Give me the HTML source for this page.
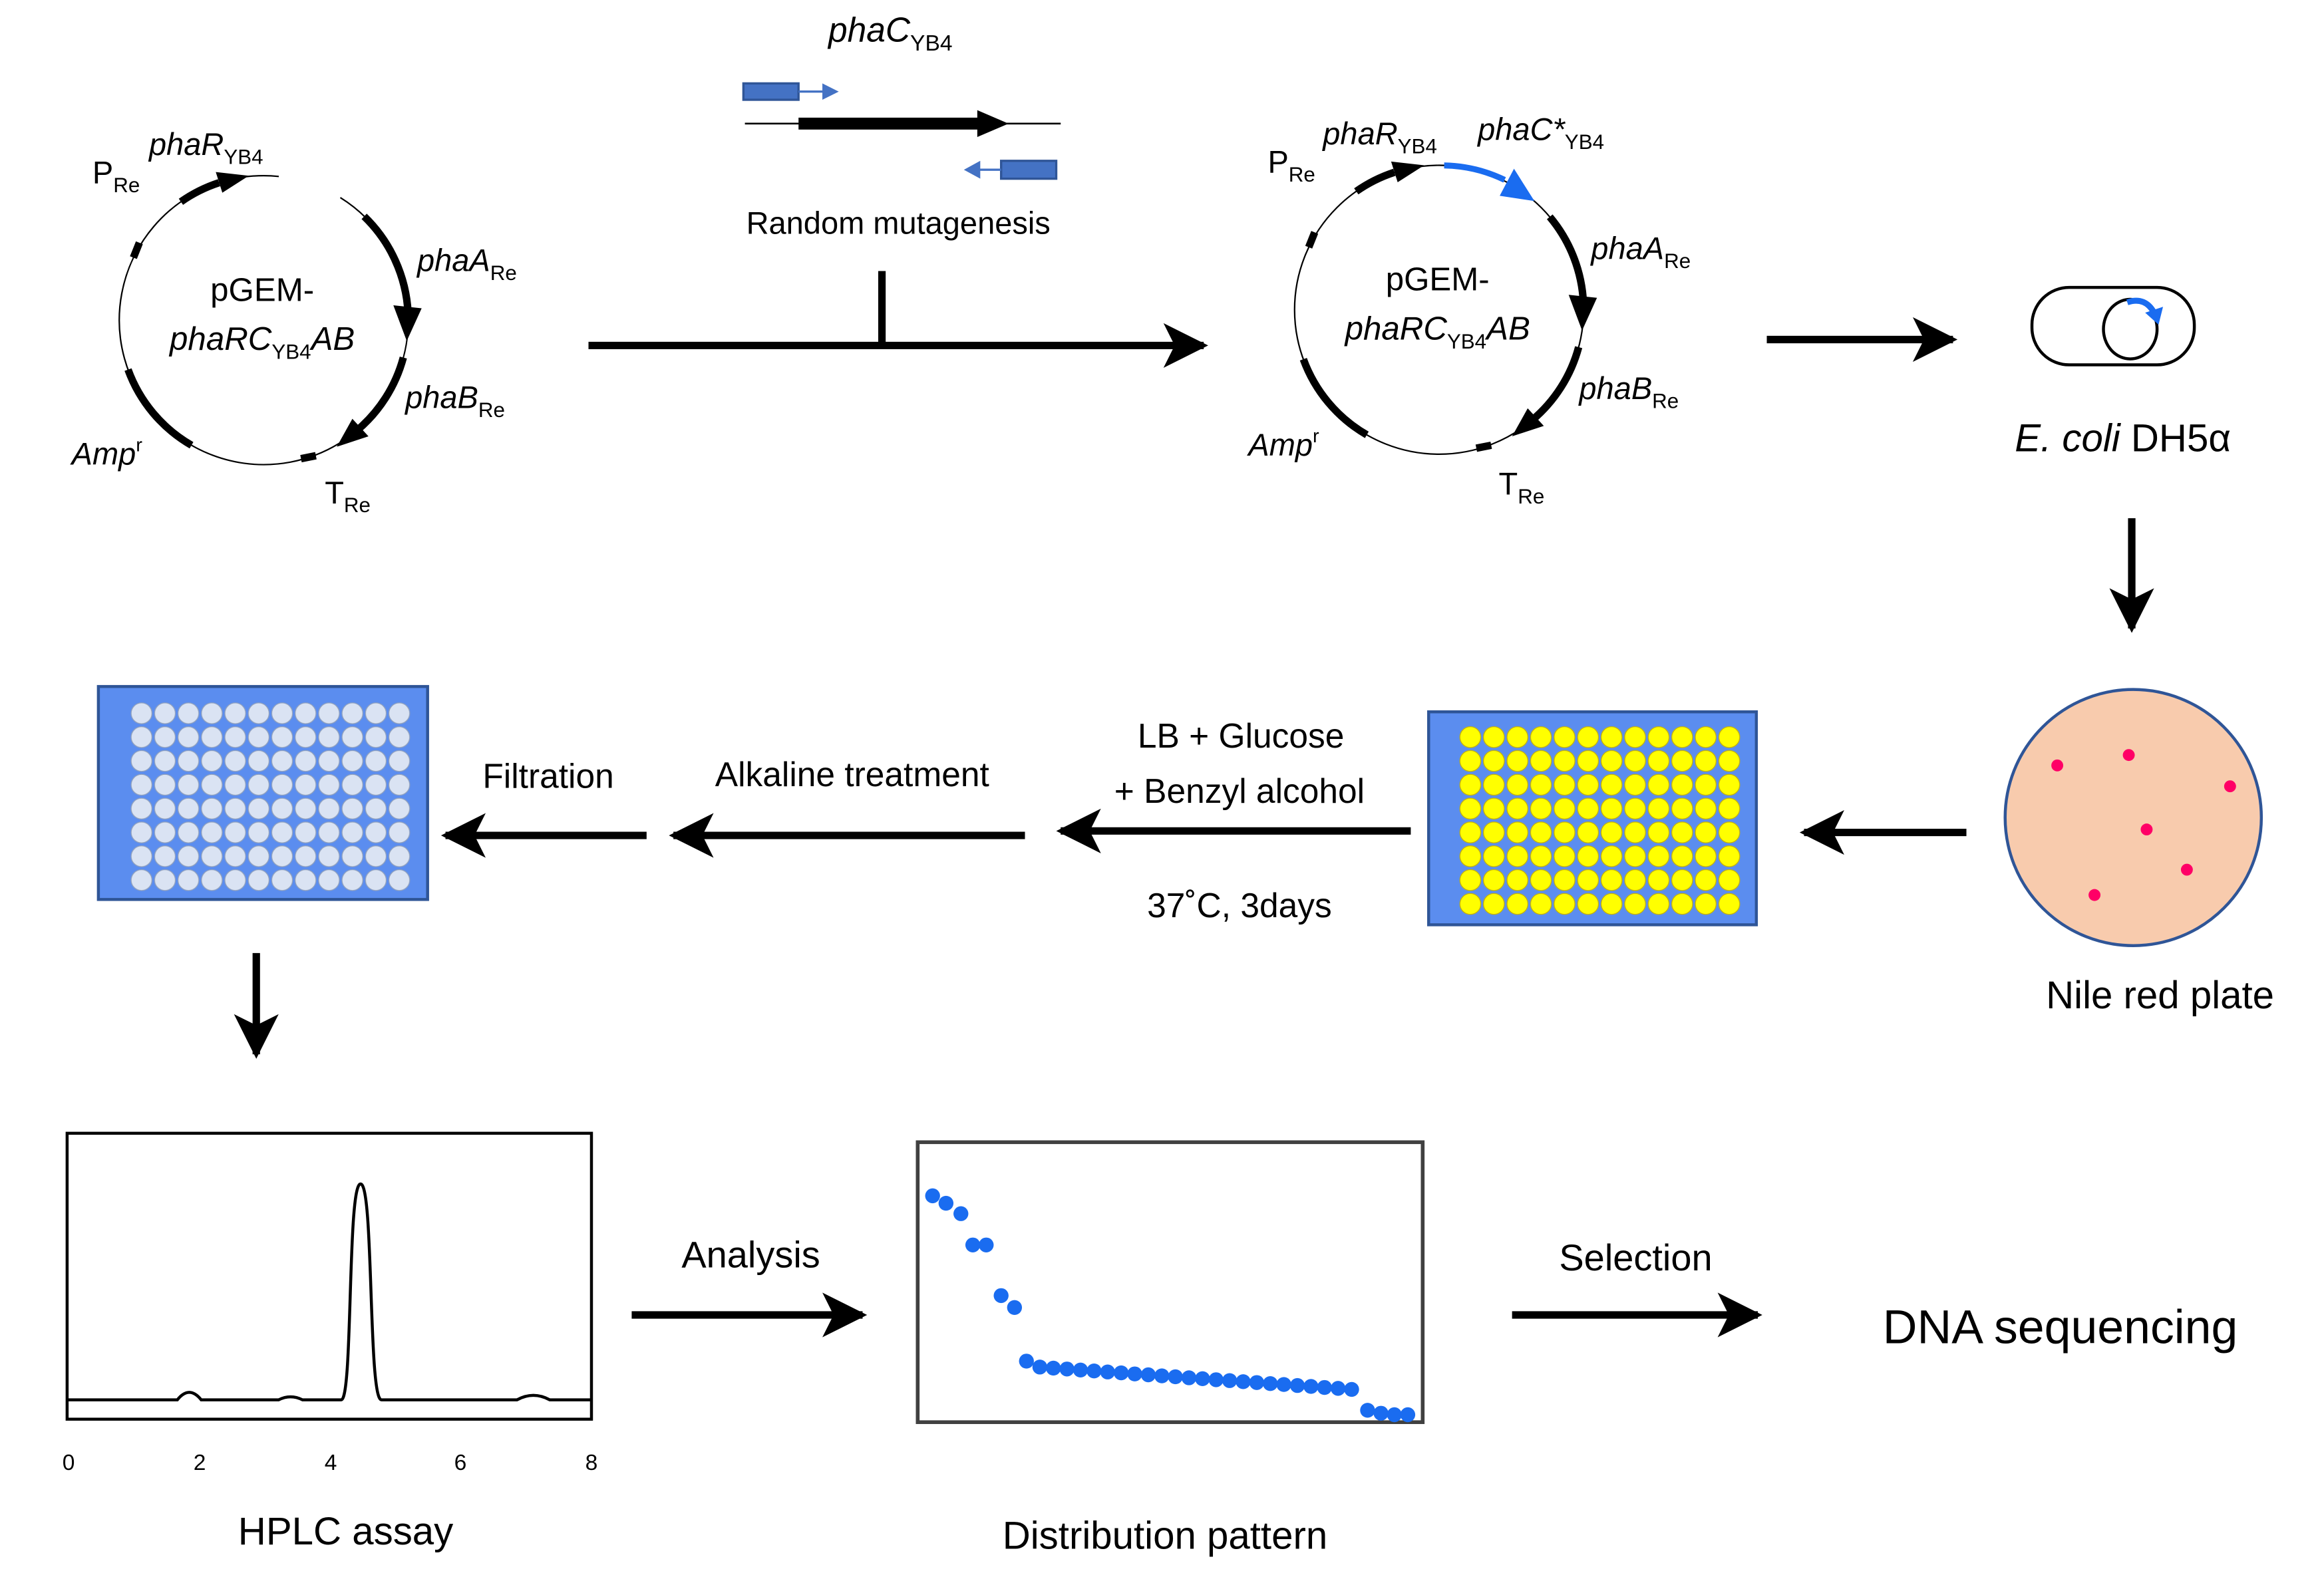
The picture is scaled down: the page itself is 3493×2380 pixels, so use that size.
<!DOCTYPE html>
<html><head><meta charset="utf-8"><style>
html,body{margin:0;padding:0;background:#fff;}
svg{display:block;}
text{font-family:"Liberation Sans",sans-serif;fill:#000;}
.i{font-style:italic;}
</style></head><body>
<svg width="3493" height="2380" viewBox="0 0 1560 1063" xmlns="http://www.w3.org/2000/svg">
<defs>
<marker id="ah" viewBox="0 0 10 10" refX="9" refY="5" markerWidth="6" markerHeight="6" markerUnits="strokeWidth" orient="auto">
<path d="M0,0 L10,5 L0,10 L2.5,5 Z" fill="#000"/></marker>
<pattern id="py" x="979.1" y="487" width="15.8" height="16" patternUnits="userSpaceOnUse">
<circle cx="7.9" cy="8" r="7" fill="#ffff00" stroke="#c8b400" stroke-width="0.6"/></pattern>
<pattern id="pw" x="87.1" y="471" width="15.73" height="16" patternUnits="userSpaceOnUse">
<circle cx="7.86" cy="8" r="7" fill="#dae3f3" stroke="#8fa0bd" stroke-width="0.6"/></pattern>
</defs>

<!-- Plasmid 1 -->
<g id="pl1">
<path d="M228.4,132.7 A97,97 0 1 1 187.1,118.5" fill="none" stroke="#000" stroke-width="1"/>
<path d="M244.4,145.3 A97,97 0 0 1 273.9,219" fill="none" stroke="#000" stroke-width="5"/>
<polygon points="264,205 283,207 273,229" fill="#000"/>
<path d="M270.7,240.1 A97,97 0 0 1 239.3,289.3" fill="none" stroke="#000" stroke-width="5"/>
<polygon points="247.3,293 236.5,281.2 226,300" fill="#000"/>
<path d="M121.4,135.5 A97,97 0 0 1 147,122.7" fill="none" stroke="#000" stroke-width="5"/>
<polygon points="144.8,115.5 149.2,129.4 167,118" fill="#000"/>
<path d="M128.5,299 A97,97 0 0 1 85.9,248.2" fill="none" stroke="#000" stroke-width="5"/>
<path d="M93.5,163 L89.5,173" stroke="#000" stroke-width="5"/>
<path d="M202,308 L212,306" stroke="#000" stroke-width="5"/>
</g>
<text x="62" y="123" font-size="21">P<tspan font-size="14" dy="6">Re</tspan></text>
<text x="100" y="104" font-size="21" class="i">phaR<tspan font-size="14" dy="6" font-style="normal">YB4</tspan></text>
<text x="280" y="182" font-size="21" class="i">phaA<tspan font-size="14" dy="6" font-style="normal">Re</tspan></text>
<text x="272" y="274" font-size="21" class="i">phaB<tspan font-size="14" dy="6" font-style="normal">Re</tspan></text>
<text x="48" y="312" font-size="21" class="i">Amp<tspan font-size="13" dy="-9" font-style="normal">r</tspan></text>
<text x="218" y="338" font-size="21">T<tspan font-size="14" dy="6">Re</tspan></text>
<text x="176" y="202" font-size="22" text-anchor="middle">pGEM-</text>
<text x="176" y="235" font-size="22" text-anchor="middle" class="i">phaRC<tspan font-size="14" dy="6" font-style="normal">YB4</tspan><tspan dy="-6">AB</tspan></text>

<!-- Top middle -->
<text x="556" y="28" font-size="23" class="i">phaC<tspan font-size="15" dy="6" font-style="normal">YB4</tspan></text>
<rect x="499" y="56" width="37" height="11" fill="#4472c4" stroke="#2f5597" stroke-width="1.5"/>
<line x1="536" y1="61.5" x2="553" y2="61.5" stroke="#4472c4" stroke-width="1.5"/>
<polygon points="552,56 563,61.5 552,67" fill="#4472c4"/>
<line x1="500" y1="83" x2="712" y2="83" stroke="#000" stroke-width="1.2"/>
<rect x="536" y="79" width="124" height="8" fill="#000"/>
<polygon points="656,74 677,83 656,92" fill="#000"/>
<rect x="672" y="108" width="37" height="12" fill="#4472c4" stroke="#2f5597" stroke-width="1.5"/>
<line x1="672" y1="114" x2="656" y2="114" stroke="#4472c4" stroke-width="1.5"/>
<polygon points="658,108 647,114 658,120" fill="#4472c4"/>
<text x="603" y="157" font-size="21" text-anchor="middle">Random mutagenesis</text>
<line x1="592" y1="182" x2="592" y2="232" stroke="#000" stroke-width="5"/>
<line x1="395" y1="232" x2="808" y2="232" stroke="#000" stroke-width="5" marker-end="url(#ah)"/>

<!-- Plasmid 2 -->
<g transform="translate(789,-7)">
<circle cx="177" cy="215" r="97" fill="none" stroke="#000" stroke-width="1"/>
<path d="M251.3,152.6 A97,97 0 0 1 273.9,219" fill="none" stroke="#000" stroke-width="5"/>
<polygon points="264,205 283,207 273,229" fill="#000"/>
<path d="M270.7,240.1 A97,97 0 0 1 239.3,289.3" fill="none" stroke="#000" stroke-width="5"/>
<polygon points="247.3,293 236.5,281.2 226,300" fill="#000"/>
<path d="M121.4,135.5 A97,97 0 0 1 147,122.7" fill="none" stroke="#000" stroke-width="5"/>
<polygon points="144.8,115.5 149.2,129.4 167,118" fill="#000"/>
<path d="M180.4,118.1 A97,97 0 0 1 221,127.8" fill="none" stroke="#1a6cf0" stroke-width="4"/>
<polygon points="227.3,120.3 217.7,138.5 241,142" fill="#1a6cf0"/>
<path d="M128.5,299 A97,97 0 0 1 85.9,248.2" fill="none" stroke="#000" stroke-width="5"/>
<path d="M93.5,163 L89.5,173" stroke="#000" stroke-width="5"/>
<path d="M202,308 L212,306" stroke="#000" stroke-width="5"/>
</g>
<text x="851" y="116" font-size="21">P<tspan font-size="14" dy="6">Re</tspan></text>
<text x="888" y="97" font-size="21" class="i">phaR<tspan font-size="14" dy="6" font-style="normal">YB4</tspan></text>
<text x="992" y="94" font-size="21" class="i">phaC*<tspan font-size="14" dy="6" font-style="normal">YB4</tspan></text>
<text x="1068" y="174" font-size="21" class="i">phaA<tspan font-size="14" dy="6" font-style="normal">Re</tspan></text>
<text x="1060" y="268" font-size="21" class="i">phaB<tspan font-size="14" dy="6" font-style="normal">Re</tspan></text>
<text x="838" y="306" font-size="21" class="i">Amp<tspan font-size="13" dy="-9" font-style="normal">r</tspan></text>
<text x="1006" y="332" font-size="21">T<tspan font-size="14" dy="6">Re</tspan></text>
<text x="965" y="195" font-size="22" text-anchor="middle">pGEM-</text>
<text x="965" y="228" font-size="22" text-anchor="middle" class="i">phaRC<tspan font-size="14" dy="6" font-style="normal">YB4</tspan><tspan dy="-6">AB</tspan></text>

<!-- E. coli -->
<line x1="1186" y1="228" x2="1311" y2="228" stroke="#000" stroke-width="5" marker-end="url(#ah)"/>
<rect x="1364" y="193" width="109" height="52" rx="25" fill="none" stroke="#000" stroke-width="2"/>
<ellipse cx="1430" cy="221" rx="18" ry="20" fill="none" stroke="#000" stroke-width="2"/>
<path d="M1428,203 Q1440,199 1446,210" fill="none" stroke="#1a6cf0" stroke-width="4"/>
<polygon points="1440,210 1452,206 1449,218" fill="#1a6cf0"/>
<text x="1425" y="303" font-size="26" text-anchor="middle"><tspan class="i">E. coli</tspan> DH5α</text>
<line x1="1431" y1="348" x2="1431" y2="422" stroke="#000" stroke-width="5" marker-end="url(#ah)"/>

<!-- Nile red plate -->
<circle cx="1432" cy="549" r="86" fill="#f8cbad" stroke="#2f5597" stroke-width="2"/>
<g fill="#ff0066">
<circle cx="1381" cy="514" r="4"/><circle cx="1429" cy="507" r="4"/><circle cx="1497" cy="528" r="4"/>
<circle cx="1441" cy="557" r="4"/><circle cx="1468" cy="584" r="4"/><circle cx="1406" cy="601" r="4"/>
</g>
<text x="1450" y="677" font-size="26" text-anchor="middle">Nile red plate</text>
<line x1="1320" y1="559" x2="1211" y2="559" stroke="#000" stroke-width="5" marker-end="url(#ah)"/>

<!-- Yellow plate -->
<rect x="959" y="478" width="220" height="143" fill="#5b8def" stroke="#2f5597" stroke-width="2"/>
<rect x="979.1" y="487" width="189.6" height="128" fill="url(#py)"/>
<line x1="947" y1="558" x2="712" y2="558" stroke="#000" stroke-width="5" marker-end="url(#ah)"/>
<text x="833" y="502" font-size="23" text-anchor="middle">LB + Glucose</text>
<text x="832" y="539" font-size="23" text-anchor="middle">+ Benzyl alcohol</text>
<text x="832" y="616" font-size="23" text-anchor="middle">37˚C, 3days</text>
<line x1="688" y1="561" x2="452" y2="561" stroke="#000" stroke-width="5" marker-end="url(#ah)"/>
<text x="572" y="528" font-size="23" text-anchor="middle">Alkaline treatment</text>
<line x1="434" y1="561" x2="299" y2="561" stroke="#000" stroke-width="5" marker-end="url(#ah)"/>
<text x="368" y="529" font-size="23" text-anchor="middle">Filtration</text>

<!-- White plate -->
<rect x="66" y="461" width="221" height="143" fill="#5b8def" stroke="#2f5597" stroke-width="2"/>
<rect x="87.1" y="471" width="188.8" height="128" fill="url(#pw)"/>
<line x1="172" y1="640" x2="172" y2="708" stroke="#000" stroke-width="5" marker-end="url(#ah)"/>

<!-- HPLC -->
<rect x="45" y="761" width="352" height="192" fill="none" stroke="#000" stroke-width="2"/>
<path d="M45,940 L119,940 Q127,930 135,940 L187,940 Q195,936 203,940 L229,940 C237,940 233,795 242,795 C251,795 247,940 256,940 L347,940 Q358,934 369,940 L397,940" fill="none" stroke="#000" stroke-width="2"/>
<g font-size="15" text-anchor="middle">
<text x="46" y="987">0</text><text x="134" y="987">2</text><text x="222" y="987">4</text><text x="309" y="987">6</text><text x="397" y="987">8</text>
</g>
<text x="232" y="1037" font-size="26" text-anchor="middle">HPLC assay</text>
<line x1="424" y1="883" x2="579" y2="883" stroke="#000" stroke-width="5" marker-end="url(#ah)"/>
<text x="504" y="851" font-size="25" text-anchor="middle">Analysis</text>

<!-- Distribution -->
<rect x="616" y="767" width="339" height="188" fill="none" stroke="#404040" stroke-width="2.5"/>
<g fill="#1a6cf0">
<circle cx="626" cy="803" r="5"/><circle cx="635" cy="808" r="5"/><circle cx="645" cy="815" r="5"/>
<circle cx="653" cy="836" r="5"/><circle cx="662" cy="836" r="5"/><circle cx="672" cy="870" r="5"/>
<circle cx="681" cy="878" r="5"/><circle cx="689" cy="914" r="5"/>
<circle cx="698" cy="918" r="5"/><circle cx="707.1" cy="918.7" r="5"/><circle cx="716.2" cy="919.3" r="5"/>
<circle cx="725.3" cy="920" r="5"/><circle cx="734.4" cy="920.6" r="5"/><circle cx="743.5" cy="921.3" r="5"/>
<circle cx="752.6" cy="921.9" r="5"/><circle cx="761.7" cy="922.6" r="5"/><circle cx="770.8" cy="923.2" r="5"/>
<circle cx="779.9" cy="923.9" r="5"/><circle cx="789" cy="924.5" r="5"/><circle cx="798.1" cy="925.2" r="5"/>
<circle cx="807.2" cy="925.8" r="5"/><circle cx="816.3" cy="926.5" r="5"/><circle cx="825.4" cy="927.1" r="5"/>
<circle cx="834.5" cy="927.8" r="5"/><circle cx="843.6" cy="928.4" r="5"/><circle cx="852.7" cy="929.1" r="5"/>
<circle cx="861.8" cy="929.7" r="5"/><circle cx="870.9" cy="930.4" r="5"/><circle cx="880" cy="931" r="5"/>
<circle cx="889.1" cy="931.7" r="5"/><circle cx="898.2" cy="932.3" r="5"/><circle cx="907.3" cy="933" r="5"/>
<circle cx="918" cy="947" r="5"/><circle cx="927" cy="949" r="5"/><circle cx="936" cy="950" r="5"/><circle cx="945" cy="950" r="5"/>
</g>
<text x="782" y="1040" font-size="26" text-anchor="middle">Distribution pattern</text>
<line x1="1015" y1="883" x2="1180" y2="883" stroke="#000" stroke-width="5" marker-end="url(#ah)"/>
<text x="1098" y="853" font-size="25" text-anchor="middle">Selection</text>
<text x="1383" y="902" font-size="32" text-anchor="middle">DNA sequencing</text>
</svg>
</body></html>
